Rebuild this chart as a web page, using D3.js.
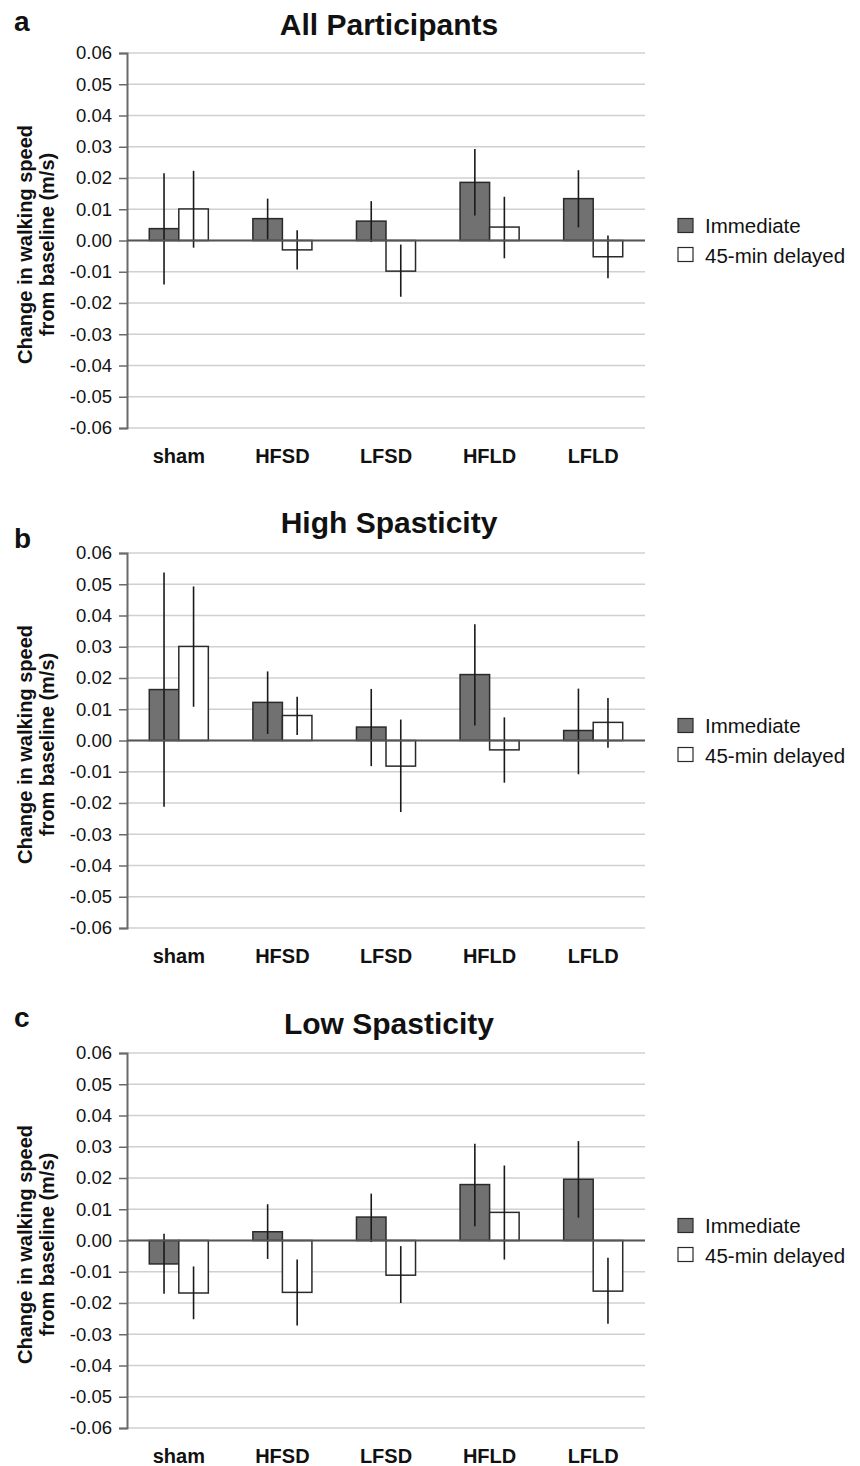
<!DOCTYPE html>
<html>
<head>
<meta charset="utf-8">
<script src="https://cdn.jsdelivr.net/npm/d3@7"></script>
<style>
  body { margin: 0; background: #fff; }
  text { font-family: "Liberation Sans", Arial, sans-serif; }
</style>
</head>
<body>
<div id="chart"></div>
<script>
////////////////////////////// data //////////////////////////////
var categories = ["sham", "HFSD", "LFSD", "HFLD", "LFLD"];
var seriesNames = ["Immediate", "45-min delayed"];
var yTicks = [0.06, 0.05, 0.04, 0.03, 0.02, 0.01, 0, -0.01, -0.02, -0.03, -0.04, -0.05, -0.06];
var panelLetters = ["a", "b", "c"];
var panelTitles = ["All Participants", "High Spasticity", "Low Spasticity"];

// panel a
var allImm      = [0.0038, 0.0070, 0.0062, 0.0186, 0.0134];
var allImmLo    = [-0.0141, 0.0003, -0.0005, 0.0080, 0.0042];
var allImmHi    = [0.0215, 0.0134, 0.0126, 0.0293, 0.0225];
var allDel      = [0.0101, -0.0030, -0.0098, 0.0043, -0.0052];
var allDelLo    = [-0.0023, -0.0093, -0.0180, -0.0057, -0.0121];
var allDelHi    = [0.0223, 0.0033, -0.0013, 0.0140, 0.0016];
// panel b
var highImm     = [0.0163, 0.0122, 0.0043, 0.0211, 0.0032];
var highImmLo   = [-0.0212, 0.0021, -0.0082, 0.0048, -0.0108];
var highImmHi   = [0.0538, 0.0221, 0.0165, 0.0372, 0.0166];
var highDel     = [0.0301, 0.0080, -0.0082, -0.0030, 0.0058];
var highDelLo   = [0.0108, 0.0018, -0.0229, -0.0135, -0.0023];
var highDelHi   = [0.0493, 0.0140, 0.0067, 0.0074, 0.0136];
// panel c
var lowImm      = [-0.0075, 0.0028, 0.0075, 0.0179, 0.0196];
var lowImmLo    = [-0.0170, -0.0059, -0.0005, 0.0046, 0.0073];
var lowImmHi    = [0.0022, 0.0116, 0.0150, 0.0310, 0.0318];
var lowDel      = [-0.0168, -0.0166, -0.0111, 0.0090, -0.0162];
var lowDelLo    = [-0.0252, -0.0272, -0.0200, -0.0061, -0.0266];
var lowDelHi    = [-0.0083, -0.0061, -0.0018, 0.0240, -0.0055];

var panels = [
  [[allImm, allImmLo, allImmHi], [allDel, allDelLo, allDelHi]],
  [[highImm, highImmLo, highImmHi], [highDel, highDelLo, highDelHi]],
  [[lowImm, lowImmLo, lowImmHi], [lowDel, lowDelLo, lowDelHi]]
];

////////////////////////////// layout //////////////////////////////
var W = 860, H = 1466;
var left = 127, right = 645;
var panelTop = [53, 553, 1053];
var plotH = 375;
var letterY = [31, 548, 1027];
var titleY = [35, 533, 1034];
var barFill = ["#717171", "#ffffff"];

var svg = d3.select("#chart").append("svg")
  .attr("width", W).attr("height", H);

var x0 = d3.scaleBand().domain(categories).range([left, right]).paddingInner(0.43).paddingOuter(0.215);
var x1 = d3.scaleBand().domain([0, 1]).range([0, x0.bandwidth()]);

function drawPanel(p) {
  var top = panelTop[p];
  var y = d3.scaleLinear().domain([-0.06, 0.06]).range([top + plotH, top]);
  var g = svg.append("g");

  // gridlines
  g.selectAll("line.grid").data(yTicks).enter().append("line")
    .attr("x1", left).attr("x2", right)
    .attr("y1", d => y(d)).attr("y2", d => y(d))
    .attr("stroke", "#d0d0d0").attr("stroke-width", 1.5);

  // y axis
  var yAxis = d3.axisLeft(y).tickValues(yTicks).tickSize(8).tickPadding(7)
    .tickFormat(d3.format(".2f"));
  var ax = g.append("g").attr("transform", "translate(" + left + ",0)").call(yAxis);
  ax.attr("font-size", null).attr("font-family", null);
  ax.select(".domain").attr("stroke", "#6b6b6b").attr("stroke-width", 2);
  ax.selectAll(".tick line").attr("stroke", "#6b6b6b").attr("stroke-width", 1.5);
  ax.selectAll(".tick text").attr("font-size", 18.5).attr("fill", "#111")
    .text(d => d < 0 ? "-" + d3.format(".2f")(-d) : d3.format(".2f")(d));

  // bars
  panels[p].forEach(function (s, si) {
    var vals = s[0], lo = s[1], hi = s[2];
    g.selectAll("rect.s" + si).data(vals).enter().append("rect")
      .attr("x", (d, i) => x0(categories[i]) + x1(si))
      .attr("y", d => y(Math.max(0, d)))
      .attr("width", x1.bandwidth())
      .attr("height", d => Math.abs(y(d) - y(0)))
      .attr("fill", barFill[si]).attr("stroke", "#2a2a2a").attr("stroke-width", 1.5);
    g.selectAll("line.e" + si).data(vals).enter().append("line")
      .attr("x1", (d, i) => x0(categories[i]) + x1(si) + x1.bandwidth() / 2)
      .attr("x2", (d, i) => x0(categories[i]) + x1(si) + x1.bandwidth() / 2)
      .attr("y1", (d, i) => y(lo[i]))
      .attr("y2", (d, i) => y(hi[i]))
      .attr("stroke", "#1a1a1a").attr("stroke-width", 1.6);
  });

  // zero line
  g.append("line").attr("x1", left).attr("x2", right)
    .attr("y1", y(0)).attr("y2", y(0))
    .attr("stroke", "#555").attr("stroke-width", 2);

  // category labels
  g.selectAll("text.cat").data(categories).enter().append("text")
    .attr("x", d => x0(d) + x0.bandwidth() / 2)
    .attr("y", top + plotH + 35)
    .attr("text-anchor", "middle").attr("font-size", 20).attr("font-weight", "bold")
    .attr("fill", "#111").text(d => d);

  // y label
  var yl = g.append("text").attr("transform", "translate(32," + (y(0) + 4) + ") rotate(-90)")
    .attr("text-anchor", "middle").attr("font-size", 20).attr("font-weight", "bold").attr("fill", "#111");
  yl.append("tspan").attr("x", 0).attr("dy", 0).text("Change in walking speed");
  yl.append("tspan").attr("x", 0).attr("dy", 22).text("from baseline (m/s)");

  // title and letter
  g.append("text").attr("x", 389).attr("y", titleY[p]).attr("text-anchor", "middle")
    .attr("font-size", 30).attr("font-weight", "bold").attr("fill", "#111").text(panelTitles[p]);
  g.append("text").attr("x", 14).attr("y", letterY[p])
    .attr("font-size", 28).attr("font-weight", "bold").attr("fill", "#111").text(panelLetters[p]);

  // legend
  var lg = g.append("g").attr("transform", "translate(678," + (y(0) - 22) + ")");
  seriesNames.forEach(function (n, i) {
    lg.append("rect").attr("x", 0).attr("y", i * 29).attr("width", 15).attr("height", 14)
      .attr("fill", barFill[i]).attr("stroke", "#2a2a2a").attr("stroke-width", 1.2);
    lg.append("text").attr("x", 27).attr("y", i * 30 + 14)
      .attr("font-size", 20.5).attr("fill", "#111").text(n);
  });
}

[0, 1, 2].forEach(drawPanel);
</script>
</body>
</html>
